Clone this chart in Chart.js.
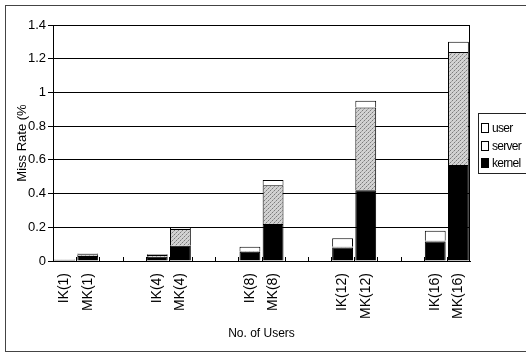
<!DOCTYPE html>
<html>
<head>
<meta charset="utf-8">
<script src="https://cdn.jsdelivr.net/npm/chart.js@4.4.1/dist/chart.umd.min.js"></script>
<style>
    body { margin: 0; background: #fff; }
    #wrap { position: relative; width: 526px; height: 355px; }
    #frame { position: absolute; left: 5px; top: 5px; right: -2px; bottom: 3px;
             border-top: 1px solid #444; border-left: 1px solid #444; border-bottom: 1px solid #444; }
    #legend { position: absolute; left: 478px; top: 113px; width: 47px; height: 59px;
              border: 1px solid #222; border-right: none; font-family: "Liberation Sans", Arial, sans-serif;
              font-size: 12px; letter-spacing: -0.7px; color: #000; }
    #legend div { position: absolute; left: 2px; height: 14px; line-height: 14px; }
    #legend span { display: inline-block; width: 6px; height: 8px; border: 1px solid #000;
                   margin-right: 3px; vertical-align: -1px; }
    canvas { position: absolute; left: 0; top: 0; }
</style>
</head>
<body>
<div id="wrap">
    <div id="frame"></div>
    <canvas id="missChart" width="526" height="355"></canvas>
    <div id="legend">
        <div style="top:7px"><span style="background:#fff"></span>user</div>
        <div style="top:25px"><span style="background:#fff"></span>server</div>
        <div style="top:42px"><span style="background:#000"></span>kernel</div>
    </div>
</div>
<script>
// ================= DATA =================
const categories = ["IK(1)", "MK(1)", "", "", "IK(4)", "MK(4)", "", "", "IK(8)", "MK(8)", "", "",
                    "IK(12)", "MK(12)", "", "", "IK(16)", "MK(16)"];
const kernel = [0.008, 0.03, null, null, 0.025, 0.09, null, null, 0.055, 0.22, null, null,
                0.08, 0.42, null, null, 0.115, 0.57];
const server = [0.001, 0.01, null, null, 0.01, 0.10, null, null, 0.005, 0.23, null, null,
                0.005, 0.49, null, null, 0.005, 0.67];
const user = [0.002, 0.005, null, null, 0.005, 0.01, null, null, 0.025, 0.03, null, null,
              0.05, 0.04, null, null, 0.06, 0.06];

// stippled gray fill for "server"
function stipple() {
    const c = document.createElement("canvas");
    c.width = 4; c.height = 4;
    const g = c.getContext("2d");
    g.fillStyle = "#d2d2d2";
    g.fillRect(0, 0, 4, 4);
    g.fillStyle = "#7c7c7c";
    g.fillRect(0, 0, 1, 1);
    g.fillRect(2, 2, 1, 1);
    g.fillStyle = "#a8a8a8";
    g.fillRect(3, 1, 1, 1);
    g.fillRect(1, 3, 1, 1);
    return g.createPattern(c, "repeat");
}

// plot border + small inward ticks between slots
const framePlugin = {
    id: "framePlugin",
    afterDraw(chart) {
        const { ctx, chartArea: a, scales } = chart;
        ctx.save();
        ctx.strokeStyle = "#000";
        ctx.lineWidth = 1;
        ctx.strokeRect(a.left + 0.5, a.top + 0.5, a.right - a.left - 1, a.bottom - a.top);
        const x = scales.x;
        ctx.beginPath();
        for (let i = 1; i < categories.length; i++) {
            const px = Math.round((x.getPixelForValue(i - 1) + x.getPixelForValue(i)) / 2) + 0.5;
            ctx.moveTo(px, a.bottom);
            ctx.lineTo(px, a.bottom - 4);
        }
        ctx.stroke();
        ctx.restore();
    }
};

const font = { family: "'Liberation Sans', Arial, sans-serif", size: 12 };

new Chart(document.getElementById("missChart"), {
    type: "bar",
    data: {
        labels: categories,
        datasets: [
            { label: "kernel", data: kernel, backgroundColor: "#000", borderColor: "#000", borderWidth: 1 },
            { label: "server", data: server, backgroundColor: stipple(), borderColor: "#000", borderWidth: 1 },
            { label: "user", data: user, backgroundColor: "#fff", borderColor: "#000", borderWidth: 1 }
        ]
    },
    options: {
        responsive: false,
        animation: false,
        categoryPercentage: 0.9,
        barPercentage: 1,
        layout: { padding: { left: 0, top: 25, right: 56, bottom: 0 } },
        plugins: {
            legend: { display: false },
            tooltip: { enabled: false }
        },
        scales: {
            x: {
                stacked: true,
                afterFit(s) { s.height = 94; },
                grid: { display: false },
                border: { color: "#000" },
                ticks: {
                    color: "#000", autoSkip: false, minRotation: 90, maxRotation: 90,
                    padding: 4, font: { family: font.family, size: 14 }
                },
                title: { display: true, text: "No. of Users", color: "#000", font: font,
                         padding: { top: 0, bottom: 14 } }
            },
            y: {
                stacked: true,
                min: 0, max: 1.4,
                afterFit(s) { s.width = 53; },
                grid: { color: "#000", tickLength: 5 },
                border: { color: "#000" },
                ticks: {
                    stepSize: 0.2, color: "#000", padding: 2, font: { family: font.family, size: 13 },
                    callback: v => String(Number(v.toFixed(1)))
                },
                title: { display: true, text: "Miss Rate (%", color: "#000", font: { family: font.family, size: 13 },
                         padding: { top: 15, bottom: 0 } }
            }
        }
    },
    plugins: [framePlugin]
});
</script>
</body>
</html>
